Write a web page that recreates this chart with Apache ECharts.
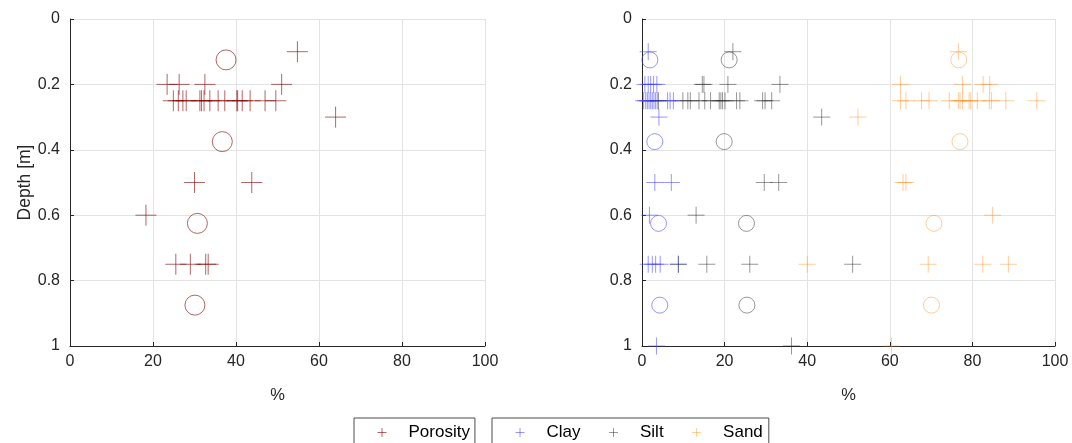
<!DOCTYPE html>
<html>
<head>
<meta charset="utf-8">
<style>
  html, body { margin: 0; padding: 0; background: #ffffff; }
  #chart { width: 1072px; height: 443px; }
</style>
<script src="https://cdn.jsdelivr.net/npm/echarts@6/dist/echarts.min.js"></script>
</head>
<body>
<div id="chart"></div>
<script>
// Axis ticks
const percentTicks = [0, 20, 40, 60, 80, 100];
const depthTicks = [0, 0.2, 0.4, 0.6, 0.8, 1];

// Sample measurements: [percent, depth in m]
const porositySamples = [
  [54.8, 0.1],
  [23.4, 0.2], [26.3, 0.2], [32.5, 0.2], [51.0, 0.2],
  [24.9, 0.25], [26.1, 0.25], [27.2, 0.25], [28.0, 0.25], [31.3, 0.25], [31.7, 0.25],
  [32.3, 0.25], [33.7, 0.25], [35.7, 0.25], [37.3, 0.25], [40.2, 0.25], [40.4, 0.25],
  [41.5, 0.25], [43.4, 0.25], [47.0, 0.25], [49.6, 0.25],
  [64.0, 0.3],
  [30.0, 0.5], [43.8, 0.5],
  [18.3, 0.6],
  [25.5, 0.75], [29.0, 0.75], [32.7, 0.75], [33.3, 0.75]
];
const claySamples = [
  [1.5, 0.1],
  [0.7, 0.2], [1.5, 0.2], [2.1, 0.2], [2.8, 0.2], [3.6, 0.2],
  [0.4, 0.25], [0.9, 0.25], [1.3, 0.25], [1.7, 0.25], [2.1, 0.25], [2.5, 0.25],
  [2.9, 0.25], [3.3, 0.25], [3.7, 0.25], [6.2, 0.25], [6.8, 0.25], [7.6, 0.25],
  [4.1, 0.3],
  [3.1, 0.5], [7.1, 0.5],
  [1.8, 0.6],
  [1.5, 0.75], [2.5, 0.75], [3.3, 0.75], [4.4, 0.75], [8.8, 0.75],
  [3.5, 1.0]
];
const siltSamples = [
  [22.0, 0.1],
  [14.6, 0.2], [15.0, 0.2], [20.8, 0.2], [33.4, 0.2],
  [4.0, 0.25], [9.9, 0.25], [11.1, 0.25], [11.7, 0.25], [13.8, 0.25], [15.2, 0.25],
  [16.6, 0.25], [18.7, 0.25], [19.1, 0.25], [19.5, 0.25], [20.1, 0.25], [22.9, 0.25],
  [23.7, 0.25], [29.2, 0.25], [29.8, 0.25], [31.4, 0.25],
  [43.5, 0.3],
  [29.6, 0.5], [33.1, 0.5],
  [13.1, 0.6],
  [8.8, 0.75], [15.7, 0.75], [26.1, 0.75], [51.0, 0.75],
  [36.2, 1.0]
];
const sandSamples = [
  [76.6, 0.1],
  [62.6, 0.2], [77.6, 0.2], [82.6, 0.2], [84.2, 0.2],
  [62.6, 0.25], [63.9, 0.25], [67.7, 0.25], [69.5, 0.25], [74.4, 0.25], [76.6, 0.25],
  [77.0, 0.25], [77.6, 0.25], [79.2, 0.25], [79.6, 0.25], [81.2, 0.25], [84.1, 0.25],
  [84.6, 0.25], [88.1, 0.25], [95.6, 0.25],
  [52.3, 0.3],
  [63.2, 0.5], [63.9, 0.5],
  [84.9, 0.6],
  [40.0, 0.75], [69.3, 0.75], [82.5, 0.75], [88.7, 0.75],
  [60.4, 1.0]
];

// Layer means, one per 0.25 m layer
const layerDepths = [0.125, 0.375, 0.625, 0.875];
const porosityMean = [37.6, 36.7, 30.7, 30.1];
const clayMean = [1.9, 3.1, 4.0, 4.3];
const siltMean = [21.1, 19.9, 25.3, 25.4];
const sandMean = [76.7, 77.0, 70.7, 70.1];

const COLORS = {
  porosity: 'rgba(128,0,0,0.75)',
  clay: 'rgba(70,70,255,0.7)',
  silt: 'rgba(40,40,40,0.6)',
  sand: 'rgba(255,140,30,0.55)'
};
const AXIS_COLOR = '#262626';
const GRID_COLOR = '#e3e3e3';
const FONT = 'Liberation Sans, Arial, sans-serif';
const PLUS = 'path://M0,10L20,10M10,0L10,20';

function pairMeans(values) {
  return values.map((v, i) => [v, layerDepths[i]]);
}

function xAxis(gridIndex) {
  return {
    type: 'value', gridIndex, position: 'bottom',
    min: percentTicks[0], max: percentTicks[percentTicks.length - 1],
    interval: percentTicks[1] - percentTicks[0],
    name: '%', nameLocation: 'middle', nameGap: 41,
    nameTextStyle: { color: AXIS_COLOR, fontSize: 16.5, fontFamily: FONT },
    axisLine: { show: true, onZero: false, lineStyle: { color: AXIS_COLOR, width: 1 } },
    axisTick: { show: true, inside: true, length: 4, lineStyle: { color: AXIS_COLOR } },
    axisLabel: { color: AXIS_COLOR, fontSize: 16, fontFamily: FONT, margin: 8 },
    splitLine: { show: true, lineStyle: { color: GRID_COLOR, width: 1 } }
  };
}

function yAxis(gridIndex, withName) {
  return {
    type: 'value', gridIndex, inverse: true, position: 'left',
    min: depthTicks[0], max: depthTicks[depthTicks.length - 1],
    interval: depthTicks[1] - depthTicks[0],
    name: withName ? 'Depth [m]' : '', nameLocation: 'middle', nameGap: 34,
    nameTextStyle: { color: AXIS_COLOR, fontSize: 17.5, fontFamily: FONT },
    axisLine: { show: true, onZero: false, lineStyle: { color: AXIS_COLOR, width: 1 } },
    axisTick: { show: true, inside: true, length: 4, lineStyle: { color: AXIS_COLOR } },
    axisLabel: { color: AXIS_COLOR, fontSize: 16, fontFamily: FONT, margin: 10 },
    splitLine: { show: true, lineStyle: { color: GRID_COLOR, width: 1 } }
  };
}

function crossSeries(name, data, color, idx, size) {
  return {
    name, type: 'scatter', data,
    xAxisIndex: idx, yAxisIndex: idx,
    symbol: PLUS, symbolSize: size,
    itemStyle: { color: 'rgba(0,0,0,0)', borderColor: color, borderWidth: 1 },
    emphasis: { disabled: true }, silent: true, animation: false
  };
}

function meanSeries(name, data, color, idx, size) {
  return {
    name, type: 'scatter', data,
    xAxisIndex: idx, yAxisIndex: idx,
    symbol: 'circle', symbolSize: size,
    itemStyle: { color: 'rgba(0,0,0,0)', borderColor: color, borderWidth: 1 },
    emphasis: { disabled: true }, silent: true, animation: false
  };
}

const legendCommon = {
  orient: 'horizontal',
  top: 418,
  itemWidth: 9, itemHeight: 9,
  itemGap: 28,
  borderColor: '#4d4d4d', borderWidth: 1, borderRadius: 0,
  backgroundColor: '#ffffff',
  itemStyle: { borderWidth: 1 },
  textStyle: { color: '#000000', fontSize: 17, fontFamily: FONT, padding: [2, 0, 0, 17] },
  selectedMode: false
};

const chart = echarts.init(document.getElementById('chart'), null, { renderer: 'canvas' });
chart.setOption({
  animation: false,
  backgroundColor: '#ffffff',
  grid: [
    { left: 70, top: 19, width: 415, height: 327, containLabel: false },
    { left: 642, top: 19, width: 413, height: 327, containLabel: false }
  ],
  xAxis: [xAxis(0), xAxis(1)],
  yAxis: [yAxis(0, true), yAxis(1, false)],
  legend: [
    Object.assign({}, legendCommon, { left: 354, padding: [6, 5, 16, 23], data: ['Porosity'] }),
    Object.assign({}, legendCommon, { left: 492, padding: [6, 6, 16, 23], data: ['Clay', 'Silt', 'Sand'] })
  ],
  series: [
    crossSeries('Porosity', porositySamples, COLORS.porosity, 0, 21),
    meanSeries('Porosity mean', pairMeans(porosityMean), COLORS.porosity, 0, 20),
    crossSeries('Clay', claySamples, COLORS.clay, 1, 17),
    crossSeries('Silt', siltSamples, COLORS.silt, 1, 17),
    crossSeries('Sand', sandSamples, COLORS.sand, 1, 17),
    meanSeries('Clay mean', pairMeans(clayMean), COLORS.clay, 1, 16),
    meanSeries('Silt mean', pairMeans(siltMean), COLORS.silt, 1, 16),
    meanSeries('Sand mean', pairMeans(sandMean), COLORS.sand, 1, 16)
  ]
});
</script>
</body>
</html>
